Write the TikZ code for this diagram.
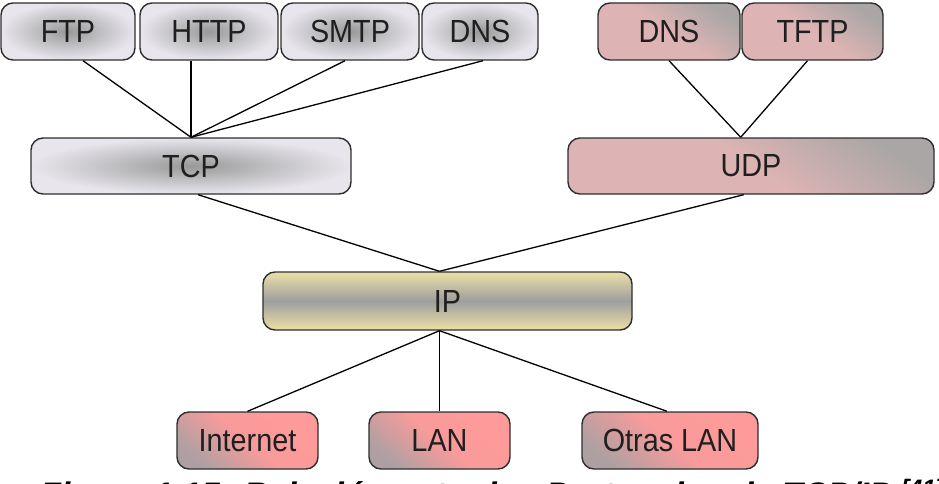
\documentclass[tikz,border=0pt]{standalone}
\usepackage{fontspec}
\setmainfont{Liberation Sans}
\newfontfamily\boxfont[FakeStretch=0.9]{Liberation Sans}
\usetikzlibrary{calc}
\definecolor{glight}{HTML}{E8E6EC}
\definecolor{gdark}{HTML}{999999}
\definecolor{pinkc}{HTML}{DDB4B3}
\definecolor{pinkg}{HTML}{ABA6A6}
\definecolor{salm}{HTML}{FF9A9A}
\definecolor{salmg}{HTML}{AEA0A2}
\definecolor{ipy}{HTML}{ECE0A6}
\definecolor{ipg}{HTML}{9E9E9E}
\definecolor{edge}{HTML}{2E2E2E}
\begin{document}
\begin{tikzpicture}[x=1pt,y=-1pt,
  box/.style={rectangle, rounded corners=12pt, draw=edge, line width=1.4pt, inner sep=0pt,
    font=\boxfont\fontsize{32}{36}\selectfont, text=black!88},
  graybox/.style={box, inner color=gdark, outer color=glight},
  pinkbox/.style={box, top color=pinkg, bottom color=pinkc, middle color=pinkc, shading angle=-35},
  salmbox/.style={box, top color=salm, bottom color=salmg, middle color=salm!92!salmg, shading angle=-40},
  ipbox/.style={box, top color=ipy, bottom color=ipy, middle color=ipg},
  link/.style={draw=black, line width=1.3pt}]
\useasboundingbox (0,0) rectangle (939,484);
\clip (0,0) rectangle (939,484);
% top row
\node[graybox, minimum width=134, minimum height=57] (ftp)  at (68,31.5)  {FTP};
\node[graybox, minimum width=138, minimum height=57] (http) at (209,31.5) {HTTP};
\node[graybox, minimum width=138, minimum height=57] (smtp) at (350,31.5) {SMTP};
\node[graybox, minimum width=116, minimum height=57] (dns)  at (480,31.5) {DNS};
\node[pinkbox, minimum width=142, minimum height=57] (dnsb) at (669,31.5) {DNS};
\node[pinkbox, minimum width=141, minimum height=57] (tftp) at (812.5,31.5) {TFTP};
% transport
\node[graybox, minimum width=320, minimum height=56] (tcp) at (191,166) {TCP};
\node[pinkbox, minimum width=366, minimum height=56] (udp) at (751,166) {UDP};
% IP
\pgfmathsetseed{7}
\node[ipbox, minimum width=369, minimum height=58,
  path picture={
    \foreach \i in {1,...,70}{
      \pgfmathsetmacro\xx{265+rnd*366}
      \pgfmathsetmacro\ww{0.4+rnd*1.0}
      \draw[white, opacity=0.55, line width=\ww pt] (\xx,270) -- (\xx,332);
    }
  }] (ip) at (447.5,301) {IP};
% bottom
\node[salmbox, minimum width=141, minimum height=57] (inet) at (247.5,440.5) {Internet};
\node[salmbox, minimum width=141, minimum height=57] (lan)  at (439.5,440.5) {LAN};
\node[salmbox, minimum width=176, minimum height=57] (otras) at (670,440.5) {Otras LAN};
% connectors
\draw[link] (tcp.north) -- ([xshift=15]ftp.south);
\draw[link] (tcp.north) -- (tcp.north |- http.south);
\draw[link] (tcp.north) -- ([xshift=-5]smtp.south);
\draw[link] (tcp.north) -- ([xshift=3]dns.south);
\draw[link] (udp.north -| dnsb.east) -- (dnsb.south);
\draw[link] (udp.north -| dnsb.east) -- ([xshift=-5]tftp.south);
\draw[link] ([xshift=7]tcp.south) -- (ip.north -| lan);
\draw[link] ([xshift=3]udp.south -| dnsb.east) -- (ip.north -| lan);
\draw[link] (ip.south -| lan) -- (inet.north);
\draw[link] (ip.south -| lan) -- (lan.north);
\draw[link] (ip.south -| lan) -- ([xshift=-3]otras.north);
% caption (cut by the lower edge, as in the reference)
\node[anchor=base west, inner sep=0pt, font=\bfseries\itshape\fontsize{34}{38}\selectfont] (cap) at (40,506)
  {Figura 1.15: Relación entre los Protocolos de TCP/IP \textsuperscript{[41]}};
\end{tikzpicture}
\end{document}
